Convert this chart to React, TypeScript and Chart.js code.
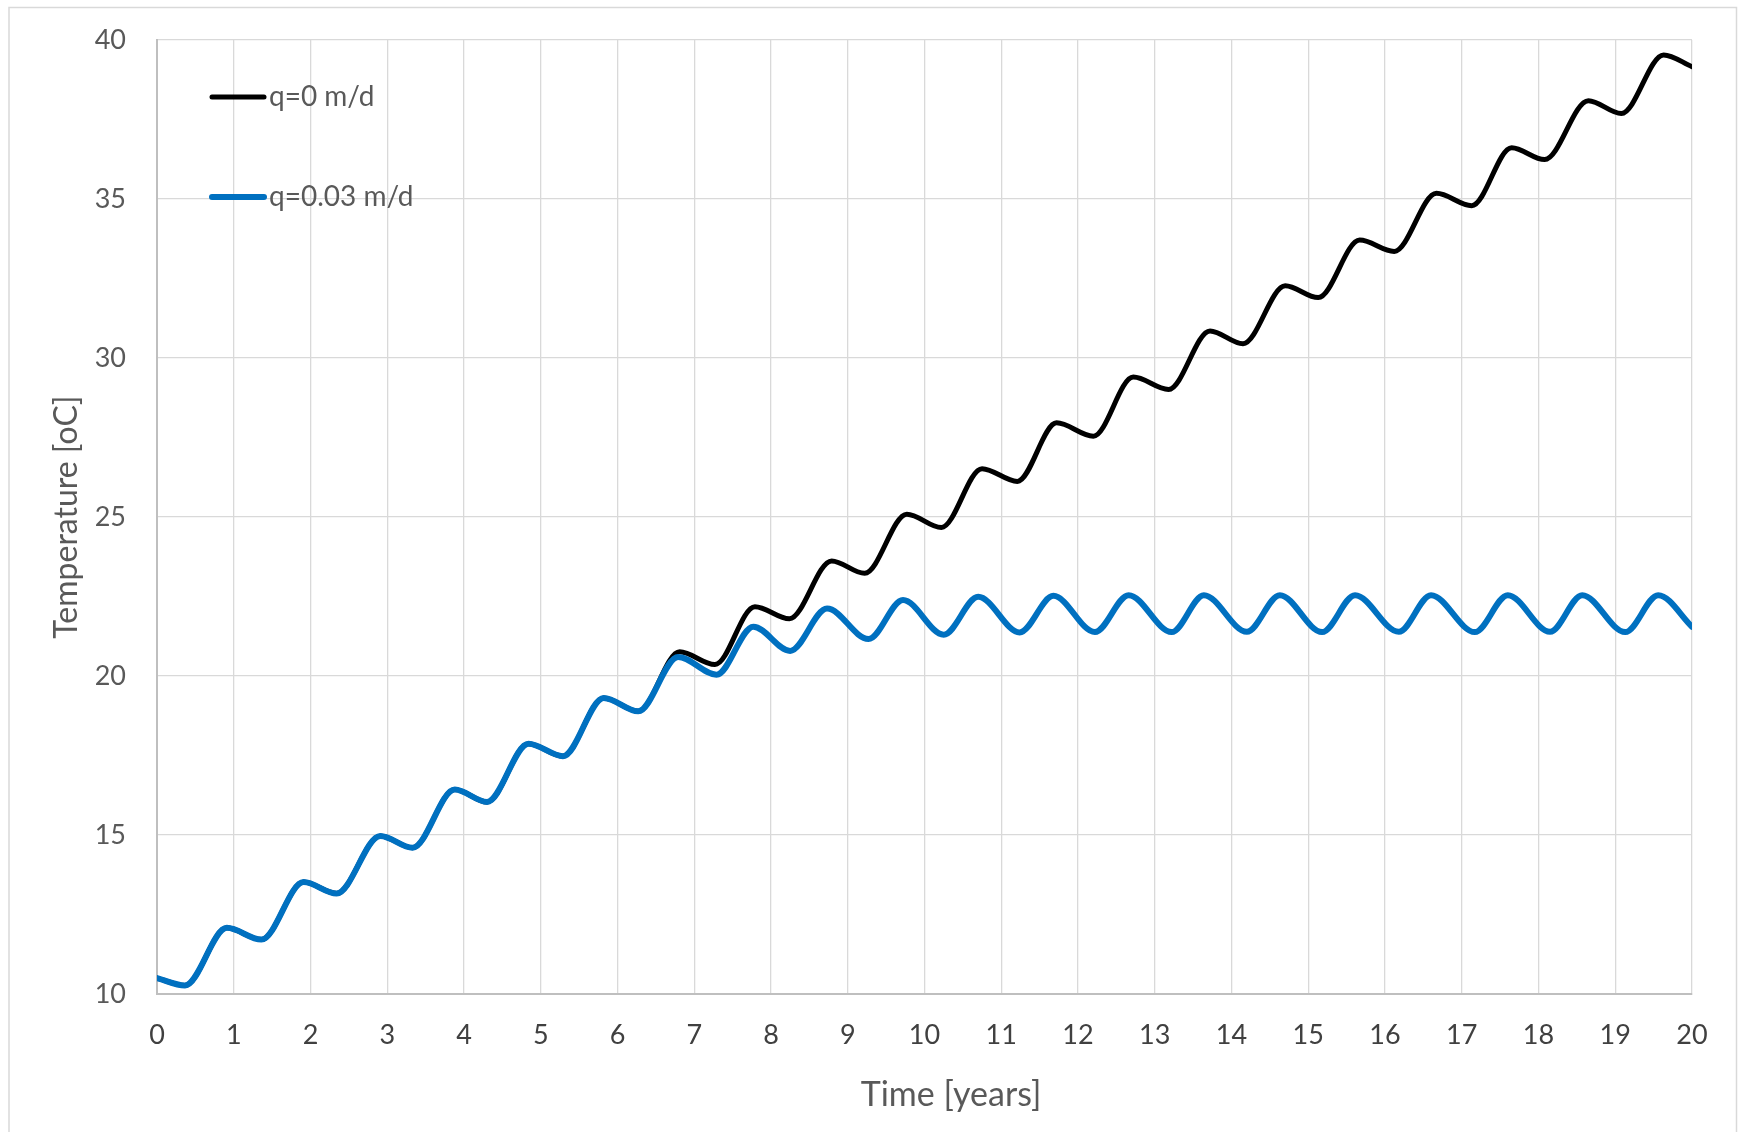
import React, { useEffect, useRef } from "react";
import { Chart, registerables } from "chart.js";

Chart.register(...registerables);

// ---- Data ----
const timeQ0 = [
  0, 0.365, 0.91, 1.36, 1.91, 2.34, 2.91, 3.33, 3.88, 4.3, 4.84, 5.29, 5.82, 6.27,
  6.81, 7.27, 7.79, 8.24, 8.79, 9.22, 9.77, 10.22, 10.75, 11.21, 11.72, 12.2, 12.72,
  13.18, 13.72, 14.15, 14.7, 15.13, 15.67, 16.12, 16.67, 17.13, 17.65, 18.08, 18.65,
  19.08, 19.63, 20,
];
const tempQ0 = [
  10.5, 10.27, 12.08, 11.71, 13.52, 13.16, 14.97, 14.6, 16.43, 16.04, 17.87, 17.48,
  19.31, 18.89, 20.76, 20.36, 22.18, 21.8, 23.62, 23.23, 25.09, 24.67, 26.52, 26.12,
  27.96, 27.54, 29.4, 29.01, 30.85, 30.45, 32.27, 31.9, 33.71, 33.35, 35.18, 34.79,
  36.61, 36.24, 38.09, 37.69, 39.53, 39.16,
];
const timeQ003 = [
  0, 0.365, 0.91, 1.36, 1.91, 2.34, 2.91, 3.33, 3.88, 4.3, 4.84, 5.29, 5.82, 6.27,
  6.79, 7.29, 7.77, 8.25, 8.73, 9.27, 9.72, 10.25, 10.7, 11.24, 11.68, 12.22, 12.66,
  13.22, 13.64, 14.2, 14.63, 15.18, 15.61, 16.18, 16.6, 17.17, 17.6, 18.15, 18.57,
  19.13, 19.56, 20,
];
const tempQ003 = [
  10.5, 10.27, 12.08, 11.71, 13.52, 13.16, 14.97, 14.6, 16.43, 16.04, 17.87, 17.48,
  19.31, 18.89, 20.6, 20.04, 21.55, 20.79, 22.12, 21.16, 22.39, 21.3, 22.49, 21.37,
  22.52, 21.38, 22.54, 21.38, 22.54, 21.39, 22.54, 21.38, 22.54, 21.39, 22.54, 21.38,
  22.54, 21.39, 22.54, 21.38, 22.54, 21.55,
];
const seriesLabels = ["q=0 m/d", "q=0.03 m/d"];
const seriesColors = ["#000000", "#0070C0"];
const xTitle = "Time [years]";
const yTitle = "Temperature [oC]";
const xMin = 0;
const xMax = 20;
const xStep = 1;
const yMin = 10;
const yMax = 40;
const yStep = 5;

const W = 1741;
const H = 1132;
const FONT = "Lato, 'Liberation Sans', sans-serif";

const decorPlugin = {
  id: "decor",
  beforeDraw(chart: any) {
    const ctx = chart.ctx;
    ctx.save();
    ctx.fillStyle = "#ffffff";
    ctx.fillRect(0, 0, W, H);
    ctx.strokeStyle = "#d9d9d9";
    ctx.lineWidth = 1.5;
    ctx.strokeRect(9, 7.5, 1727.5, 1140);
    ctx.restore();
  },
  afterDraw(chart: any) {
    const ctx = chart.ctx;
    ctx.save();
    // legend
    const items = [
      { y: 97, w: 5 },
      { y: 197, w: 6 },
    ];
    items.forEach((it, i) => {
      ctx.beginPath();
      ctx.strokeStyle = seriesColors[i];
      ctx.lineWidth = it.w;
      ctx.lineCap = "round";
      ctx.moveTo(212, it.y);
      ctx.lineTo(264, it.y);
      ctx.stroke();
      ctx.fillStyle = "#595959";
      ctx.font = `28px ${FONT}`;
      ctx.textAlign = "left";
      ctx.textBaseline = "middle";
      ctx.fillText(seriesLabels[i], 269, it.y);
    });
    // x axis title
    ctx.fillStyle = "#595959";
    ctx.font = `34px ${FONT}`;
    ctx.textAlign = "center";
    ctx.textBaseline = "middle";
    ctx.fillText(xTitle, 951, 1095);
    ctx.restore();
  },
};

export default function App() {
  const ref = useRef<HTMLCanvasElement | null>(null);

  useEffect(() => {
    if (!ref.current) return;
    const chart = new Chart(ref.current, {
      type: "line",
      data: {
        datasets: [
          {
            label: seriesLabels[0],
            data: timeQ0.map((x, i) => ({ x, y: tempQ0[i] })),
            borderColor: seriesColors[0],
            backgroundColor: seriesColors[0],
            borderWidth: 5,
            pointRadius: 0,
            cubicInterpolationMode: "monotone",
            borderCapStyle: "round",
            borderJoinStyle: "round",
            fill: false,
            order: 1,
          },
          {
            label: seriesLabels[1],
            data: timeQ003.map((x, i) => ({ x, y: tempQ003[i] })),
            borderColor: seriesColors[1],
            backgroundColor: seriesColors[1],
            borderWidth: 6,
            pointRadius: 0,
            cubicInterpolationMode: "monotone",
            borderCapStyle: "round",
            borderJoinStyle: "round",
            fill: false,
            order: 0,
          },
        ],
      },
      options: {
        animation: false,
        responsive: false,
        devicePixelRatio: 1,
        layout: { padding: { left: 0, top: 40, right: 49, bottom: 0 } },
        plugins: {
          legend: { display: false },
          tooltip: { enabled: false },
        },
        scales: {
          x: {
            type: "linear",
            min: xMin,
            max: xMax,
            afterFit: (s: any) => {
              s.height = 138;
            },
            ticks: {
              stepSize: xStep,
              font: { family: FONT, size: 27 },
              color: "#404040",
              padding: 25,
              maxRotation: 0,
              autoSkip: false,
            },
            grid: { color: "#d9d9d9", lineWidth: 1.3, drawTicks: false },
            border: { color: "#bfbfbf", width: 2 },
          },
          y: {
            type: "linear",
            min: yMin,
            max: yMax,
            afterFit: (s: any) => {
              s.width = 157;
            },
            ticks: {
              stepSize: yStep,
              font: { family: FONT, size: 27 },
              color: "#595959",
              padding: 0,
            },
            grid: {
              color: "#d9d9d9",
              lineWidth: 1.3,
              drawTicks: true,
              tickLength: 31,
              tickColor: "rgba(0,0,0,0)",
            },
            border: { color: "#bfbfbf", width: 2 },
            title: {
              display: true,
              text: yTitle,
              color: "#595959",
              font: { family: FONT, size: 32 },
              padding: { top: 47, bottom: 0 },
            },
          },
        },
      },
      plugins: [decorPlugin],
    } as any);
    return () => chart.destroy();
  }, []);

  return (
    <div style={{ position: "absolute", left: 0, top: 0, width: W, height: H, background: "#fff" }}>
      <canvas ref={ref} width={W} height={H} style={{ display: "block", width: W, height: H }} />
    </div>
  );
}
